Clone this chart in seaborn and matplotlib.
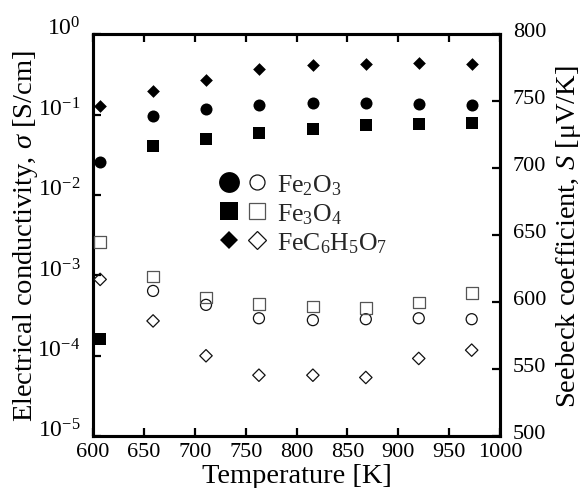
import numpy as np
import pandas as pd
import matplotlib
matplotlib.use("Agg")
import matplotlib.pyplot as plt
import matplotlib.transforms as mtransforms
import seaborn as sns
from matplotlib.legend_handler import HandlerTuple
from matplotlib.lines import Line2D
from matplotlib.ticker import LogLocator, LogFormatterSciNotation, FixedLocator, NullLocator

# ---- data ----
temperature = [607, 659, 711, 763, 816, 868, 920, 972]
materials = ["Fe2O3", "Fe3O4", "FeC6H5O7"]
labels = [r"Fe$_2$O$_3$", r"Fe$_3$O$_4$", r"FeC$_6$H$_5$O$_7$"]

sigma_fe2o3 = [0.0254, 0.096, 0.117, 0.131, 0.139, 0.141, 0.135, 0.131]
sigma_fe3o4 = [1.6e-4, 0.0408, 0.0504, 0.0582, 0.0658, 0.0738, 0.076, 0.0775]
sigma_fecit = [0.128, 0.194, 0.268, 0.367, 0.411, 0.432, 0.436, 0.423]

seeb_fe2o3 = [np.nan, 608.4, 598.0, 588.0, 586.6, 587.3, 588.0, 587.3]
seeb_fe3o4 = [645.0, 619.2, 603.5, 598.5, 596.8, 595.5, 599.8, 606.7]
seeb_fecit = [617.0, 586.0, 560.0, 545.5, 545.5, 543.8, 558.0, 564.2]

x_ticks = [600, 650, 700, 750, 800, 850, 900, 950, 1000]
right_ticks = [500, 550, 600, 650, 700, 750, 800]

sigma = {"Fe2O3": sigma_fe2o3, "Fe3O4": sigma_fe3o4, "FeC6H5O7": sigma_fecit}
seeb = {"Fe2O3": seeb_fe2o3, "Fe3O4": seeb_fe3o4, "FeC6H5O7": seeb_fecit}

rows = []
for m in materials:
    for t, s, S in zip(temperature, sigma[m], seeb[m]):
        rows.append({"T": t, "material": m, "sigma": s, "S": S})
df = pd.DataFrame(rows)

# ---- style ----
sns.set_theme(style="ticks")
plt.rcParams["font.family"] = ["Liberation Serif", "DejaVu Serif"]
plt.rcParams["mathtext.fontset"] = "custom"
plt.rcParams["mathtext.rm"] = "Liberation Serif"
plt.rcParams["mathtext.it"] = "Liberation Serif:italic"
plt.rcParams["mathtext.default"] = "rm"
FS_LABEL = 20.5
FS_XT = 16
FS_YT = 17
FS_RT = 16
FS_LEG = 18.5

fig = plt.figure(figsize=(5.85, 4.89), dpi=100)
ax = fig.add_axes([0.159, 0.106, 0.696, 0.822])
ax2 = ax.twinx()

markers = {"Fe2O3": "o", "Fe3O4": "s", "FeC6H5O7": "D"}
sizes = {"Fe2O3": 75, "Fe3O4": 80, "FeC6H5O7": 42}
open_sizes = {"Fe2O3": 63, "Fe3O4": 71, "FeC6H5O7": 40}
edge_cols = {"Fe2O3": "#111111", "Fe3O4": "#555555", "FeC6H5O7": "#111111"}

for m in materials:
    sub = df[df.material == m]
    sns.scatterplot(data=sub, x="T", y="sigma", ax=ax, marker=markers[m],
                    s=sizes[m], color="black", edgecolor="black", linewidth=0,
                    legend=False, zorder=3, clip_on=False)
    sns.scatterplot(data=sub.dropna(subset=["S"]), x="T", y="S", ax=ax2,
                    marker=markers[m], s=open_sizes[m], facecolor="none",
                    edgecolor=edge_cols[m], linewidth=0.9, legend=False,
                    zorder=3, clip_on=False)

ax.set_yscale("log")
ax.set_xlim(600, 1000)
ax.set_ylim(1e-5, 1e0)
ax2.set_ylim(500, 800)

ax.xaxis.set_major_locator(FixedLocator(x_ticks))
ax.yaxis.set_major_locator(LogLocator(base=10, numticks=10))
ax.yaxis.set_minor_locator(NullLocator())
ax.yaxis.set_major_formatter(LogFormatterSciNotation())
ax2.yaxis.set_major_locator(FixedLocator(right_ticks))

for a in (ax, ax2):
    for sp in a.spines.values():
        sp.set_linewidth(2.2)
        sp.set_color("black")
ax.tick_params(axis="x", which="major", direction="in", length=6, width=1.6,
               labelsize=FS_XT, colors="black", pad=4, top=True)
ax.tick_params(axis="y", which="major", direction="in", length=6, width=1.6,
               labelsize=FS_YT, colors="black", pad=9)
ax2.tick_params(axis="y", which="major", direction="in", length=6, width=1.6,
                labelsize=FS_RT, colors="black", pad=9)

ax.set_xlabel("Temperature [K]", fontsize=FS_LABEL, labelpad=2, color="black")
ax.set_ylabel(r"Electrical conductivity, $\mathit{\sigma}$ [S/cm]", fontsize=FS_LABEL,
              labelpad=-2, color="black")
ax2.set_ylabel(r"Seebeck coefficient, $\mathit{S}$ [$\mathrm{\mu}$V/K]", fontsize=FS_LABEL,
               labelpad=6, color="black")

# raise y tick labels slightly as in the reference
up = mtransforms.ScaledTranslation(0, 6 / 72, fig.dpi_scale_trans)
for lab in ax.get_yticklabels():
    lab.set_transform(lab.get_transform() + up)
up2 = mtransforms.ScaledTranslation(0, 4 / 72, fig.dpi_scale_trans)
for lab in ax2.get_yticklabels():
    lab.set_transform(lab.get_transform() + up2)

leg_filled_ms = {"Fe2O3": 15, "Fe3O4": 13, "FeC6H5O7": 8.7}
leg_open_ms = {"Fe2O3": 10.8, "Fe3O4": 12, "FeC6H5O7": 8.7}
handles = []
for m in materials:
    f = Line2D([], [], linestyle="none", marker=markers[m], color="black",
               markersize=leg_filled_ms[m], markeredgewidth=0)
    o = Line2D([], [], linestyle="none", marker=markers[m], markerfacecolor="none",
               markeredgecolor=edge_cols[m], markersize=leg_open_ms[m],
               markeredgewidth=0.9)
    handles.append((f, o))
leg = ax.legend(handles, labels, handler_map={tuple: HandlerTuple(ndivide=None, pad=0.4)},
                loc="upper left", bbox_to_anchor=(0.312, 0.657), frameon=False,
                fontsize=FS_LEG, handlelength=1.78, handletextpad=0.43, labelspacing=0.17,
                borderpad=0, borderaxespad=0)

fig.savefig("out.png", dpi=100)
